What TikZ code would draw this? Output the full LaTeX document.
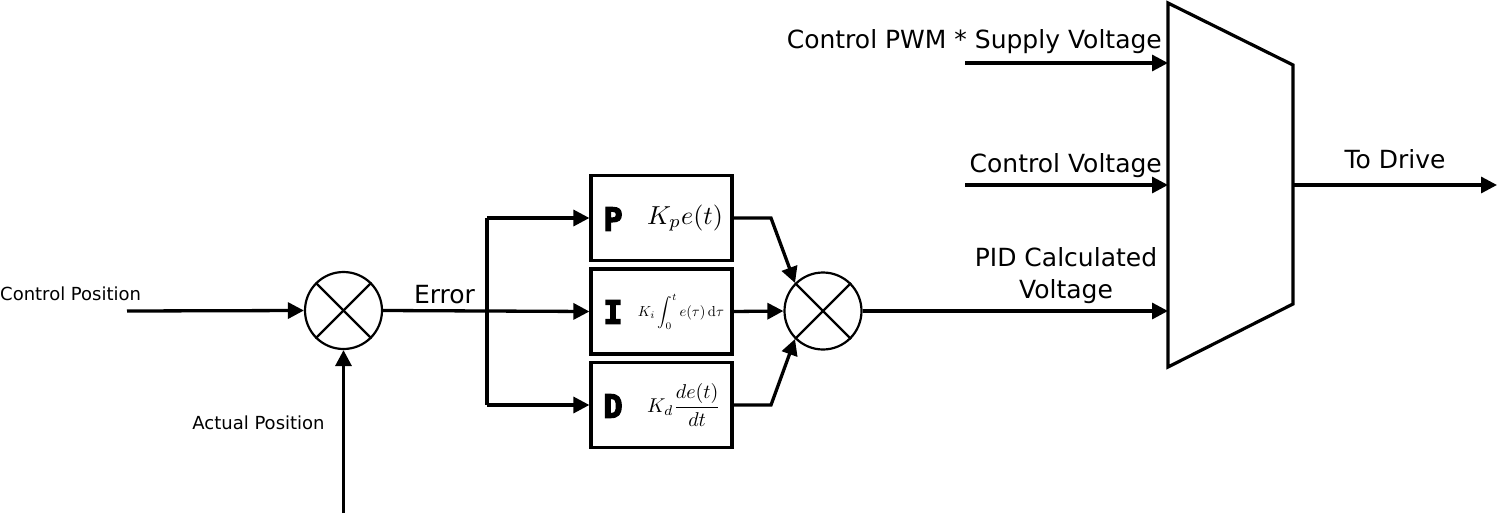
\documentclass[tikz,border=0pt]{standalone}
\usepackage{fontspec}
\setmainfont{DejaVu Sans}
\setmathrm{Latin Modern Roman}
\newfontfamily\letterfont[BoldFeatures={FakeBold=4}]{DejaVu Sans Mono}
\usetikzlibrary{arrows.meta,calc}
\tikzset{
  wire/.style={line width=3.3pt},
  arr/.style={wire,-{Triangle[length=16pt,width=16pt]}},
  sumnode/.style={circle,draw,line width=2.2pt,minimum size=77pt,inner sep=0pt},
  pidbox/.style={draw,line width=3.2pt,minimum width=141pt,minimum height=85pt,inner sep=0pt},
  biglbl/.style={font=\fontsize{25}{30}\selectfont,inner sep=0pt},
  smalllbl/.style={font=\fontsize{18}{22}\selectfont,inner sep=0pt},
  letter/.style={font=\letterfont\bfseries\fontsize{32}{34}\selectfont,inner sep=0pt},
  formula/.style={inner sep=0pt,font=\fontsize{10}{12}\selectfont},
}
\begin{document}
\begin{tikzpicture}[x=1pt,y=-1pt]
\useasboundingbox (0,0) rectangle (1497,514);
% summing junctions
\node[sumnode] (s1) at (343.5,310.5) {};
\node[sumnode] (s2) at (823,311) {};
\foreach \s in {s1,s2}{
  \draw[line width=2.2pt] (\s.45) -- (\s.225);
  \draw[line width=2.2pt] (\s.135) -- (\s.315);
}
% PID boxes
\node[pidbox] (bp) at (661.5,218) {};
\node[pidbox] (bi) at (661.5,311.5) {};
\node[pidbox] (bd) at (661.5,405) {};
\node[letter] (lp) at (613,219) {P};
\node[letter] (li) at (613,312) {I};
\node[letter] (ld) at (613,406) {D};
\node[formula,scale=2.6] (fp) at (685,218) {$K_pe(t)$};
\node[formula,scale=1.45] (fi) at (681,312) {$\displaystyle K_i\int_0^t e(\tau)\,\mathrm{d}\tau$};
\node[formula,scale=2.0] (fd) at (684,405) {$\displaystyle K_d\frac{de(t)}{dt}$};
% inputs
\coordinate (cp) at (127,311);
\coordinate (ap) at (343.5,513);
\coordinate (br) at (487,311);
\node[smalllbl,anchor=base west] (lcp) at (0,300) {Control Position};
\node[smalllbl,anchor=base] (lap) at (258.5,429) {Actual Position};
\draw[arr] (cp) -- (s1.west);
\draw[arr] (ap) -- (s1.south);
\node[biglbl,anchor=base] (lerr) at (444.5,303) {Error};
\draw[arr] (s1.east) -- (bi.west);
\draw[wire] (br |- bp.west) -- (br |- bd.west);
\draw[arr] (br |- bp.west) -- (bp.west);
\draw[arr] (br |- bd.west) -- (bd.west);
% to second junction
\coordinate (ep) at (771,218);
\coordinate (ed) at (771,405);
\draw[arr] (bp.east) -- (ep) -- (s2.135);
\draw[arr] (bi.east) -- (s2.west);
\draw[arr] (bd.east) -- (ed) -- (s2.225);
% multiplexer
\coordinate (mtl) at (1168,3);
\coordinate (mtr) at (1293,65);
\coordinate (mbr) at (1293,304);
\coordinate (mbl) at (1168,367);
\draw[line width=3.2pt,line join=miter] (mtl) -- (mtr) -- (mbr) -- (mbl) -- cycle;
\coordinate (m1) at (1168,63);
\coordinate (m2) at (1168,185);
\coordinate (m3) at (1168,311);
\coordinate (i1) at (965,63);
\coordinate (i2) at (965,185);
\coordinate (mo) at (1293,185);
\coordinate (out) at (1497,185);
\draw[arr] (i1) -- (m1);
\draw[arr] (i2) -- (m2);
\draw[arr] (s2.east) -- (m3);
\draw[arr] (mo) -- (out);
\node[biglbl,anchor=base east] (l1) at (1162,48) {Control PWM * Supply Voltage};
\node[biglbl,anchor=base east] (l2) at (1162,172) {Control Voltage};
\node[biglbl,anchor=base] (l3a) at (1066,266) {PID Calculated};
\node[biglbl,anchor=base] (l3b) at (1066,298) {Voltage};
\node[biglbl,anchor=base] (l4) at (1395,168) {To Drive};
\end{tikzpicture}
\end{document}
